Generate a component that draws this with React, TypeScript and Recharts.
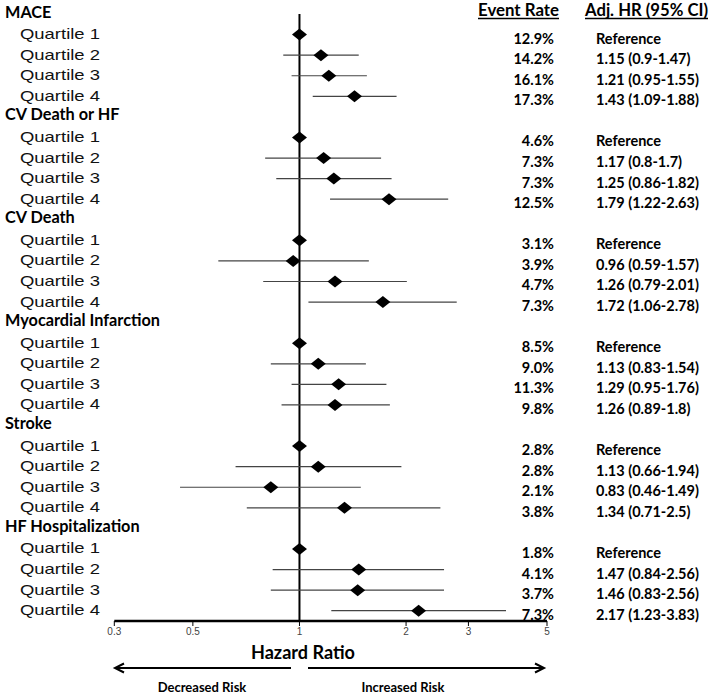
import React from 'react';
import { ScatterChart, Scatter, XAxis, YAxis, ErrorBar, ReferenceLine } from 'recharts';

const outcomes = ['MACE', 'CV Death or HF', 'CV Death', 'Myocardial Infarction', 'Stroke', 'HF Hospitalization'];
const quartiles = ['Quartile 1', 'Quartile 2', 'Quartile 3', 'Quartile 4'];
const hazardRatio = [
  [1, 1.15, 1.21, 1.43],
  [1, 1.17, 1.25, 1.79],
  [1, 0.96, 1.26, 1.72],
  [1, 1.13, 1.29, 1.26],
  [1, 1.13, 0.83, 1.34],
  [1, 1.47, 1.46, 2.17],
];
const ciLow = [
  [1, 0.9, 0.95, 1.09],
  [1, 0.8, 0.86, 1.22],
  [1, 0.59, 0.79, 1.06],
  [1, 0.83, 0.95, 0.89],
  [1, 0.66, 0.46, 0.71],
  [1, 0.84, 0.83, 1.23],
];
const ciHigh = [
  [1, 1.47, 1.55, 1.88],
  [1, 1.7, 1.82, 2.63],
  [1, 1.57, 2.01, 2.78],
  [1, 1.54, 1.76, 1.8],
  [1, 1.94, 1.49, 2.5],
  [1, 2.56, 2.56, 3.83],
];
const eventRates = [
  ['12.9%', '14.2%', '16.1%', '17.3%'],
  ['4.6%', '7.3%', '7.3%', '12.5%'],
  ['3.1%', '3.9%', '4.7%', '7.3%'],
  ['8.5%', '9.0%', '11.3%', '9.8%'],
  ['2.8%', '2.8%', '2.1%', '3.8%'],
  ['1.8%', '4.1%', '3.7%', '7.3%'],
];
const xTicks = [0.3, 0.5, 1, 2, 3, 5];

type Row = { idx: number; label: string; header: boolean; rate?: string; hrText?: string };

const rows: Row[] = outcomes.flatMap((o, g) => [
  { idx: g * 5, label: o, header: true },
  ...quartiles.map((q, k) => ({
    idx: g * 5 + k + 1,
    label: q,
    header: false,
    rate: eventRates[g][k],
    hrText: k === 0 ? 'Reference' : `${hazardRatio[g][k]} (${ciLow[g][k]}-${ciHigh[g][k]})`,
  })),
]);

const points = outcomes.flatMap((o, g) =>
  quartiles.map((q, k) => ({
    row: g * 5 + k + 1,
    hr: hazardRatio[g][k],
    err: [hazardRatio[g][k] - ciLow[g][k], ciHigh[g][k] - hazardRatio[g][k]],
  }))
);

const BOLD = 'Lato, "Open Sans", sans-serif';
const SANS = '"Liberation Sans", Arial, sans-serif';

const RowTick = (props: any) => {
  const { y, payload } = props;
  const row = rows.find((r) => r.idx === payload.value);
  if (!row) return null;
  if (row.header) {
    return (
      <text x={5} y={y + 3.5} fontFamily={BOLD} fontWeight={700} fontSize={16.3} fill="#000">
        {row.label}
      </text>
    );
  }
  return (
    <g>
      <text x={20} y={y + 4.5} fontFamily={SANS} fontSize={15} fill="#111" textLength={80} lengthAdjust="spacingAndGlyphs">
        {row.label}
      </text>
      <text x={554} y={y + 9} textAnchor="end" fontFamily={BOLD} fontWeight={700} fontSize={14.5} fill="#000">
        {row.rate}
      </text>
      <text x={596} y={y + 9} fontFamily={BOLD} fontWeight={700} fontSize={14.5} fill="#000">
        {row.hrText}
      </text>
    </g>
  );
};

const Diamond = (props: any) => {
  const { cx, cy } = props;
  return <path d={`M${cx - 7.5},${cy}L${cx},${cy - 6}L${cx + 7.5},${cy}L${cx},${cy + 6}Z`} fill="#000" />;
};

export default function App() {
  return (
    <div style={{ position: 'absolute', left: 0, top: 0, width: 709, height: 696, background: '#fff' }}>
      <ScatterChart width={709} height={696} margin={{ top: 14, right: 162, bottom: 0, left: 0 }}>
        <XAxis
          type="number"
          dataKey="hr"
          scale="log"
          domain={[0.3, 5]}
          ticks={xTicks}
          allowDataOverflow
          height={75}
          axisLine={{ stroke: '#000', strokeWidth: 2.5 }}
          tickLine={{ stroke: '#000', strokeWidth: 1 }}
          tickSize={5}
          tickMargin={2}
          tick={{ fontSize: 10, fill: '#444', fontFamily: SANS }}
        />
        <YAxis
          type="number"
          dataKey="row"
          domain={[0, 29.5]}
          reversed
          ticks={rows.map((r) => r.idx)}
          interval={0}
          width={114.3}
          axisLine={false}
          tickLine={false}
          tick={<RowTick />}
        />
        <ReferenceLine x={1} stroke="#000" strokeWidth={2} />
        <Scatter data={points} shape={<Diamond />} isAnimationActive={false}>
          <ErrorBar dataKey="err" direction="x" width={0} stroke="#444" strokeWidth={1.2} isAnimationActive={false} />
        </Scatter>
      </ScatterChart>
      <svg width={709} height={696} style={{ position: 'absolute', left: 0, top: 0, pointerEvents: 'none' }}>
        <text x={478} y={16} fontFamily={BOLD} fontWeight={700} fontSize={16.5} fill="#000" textLength={81} lengthAdjust="spacingAndGlyphs">Event Rate</text>
        <line x1={478} x2={559} y1={18.5} y2={18.5} stroke="#000" strokeWidth={1.3} />
        <text x={585} y={16} fontFamily={BOLD} fontWeight={700} fontSize={16.5} fill="#000" textLength={123} lengthAdjust="spacingAndGlyphs">Adj. HR (95% CI)</text>
        <line x1={585} x2={708} y1={18.5} y2={18.5} stroke="#000" strokeWidth={1.3} />
        <text x={251} y={659} fontFamily={BOLD} fontWeight={700} fontSize={18} fill="#000" textLength={104} lengthAdjust="spacingAndGlyphs">Hazard Ratio</text>
        <line x1={115} x2={291} y1={668} y2={668} stroke="#000" strokeWidth={2} />
        <polyline points="124,663.5 115,668 124,672.5" fill="none" stroke="#000" strokeWidth={2} />
        <line x1={308} x2={544} y1={668} y2={668} stroke="#000" strokeWidth={2} />
        <polyline points="535,663.5 544,668 535,672.5" fill="none" stroke="#000" strokeWidth={2} />
        <text x={202} y={692} textAnchor="middle" fontFamily={BOLD} fontWeight={700} fontSize={13} fill="#000">Decreased Risk</text>
        <text x={403} y={692} textAnchor="middle" fontFamily={BOLD} fontWeight={700} fontSize={13} fill="#000">Increased Risk</text>
      </svg>
    </div>
  );
}
